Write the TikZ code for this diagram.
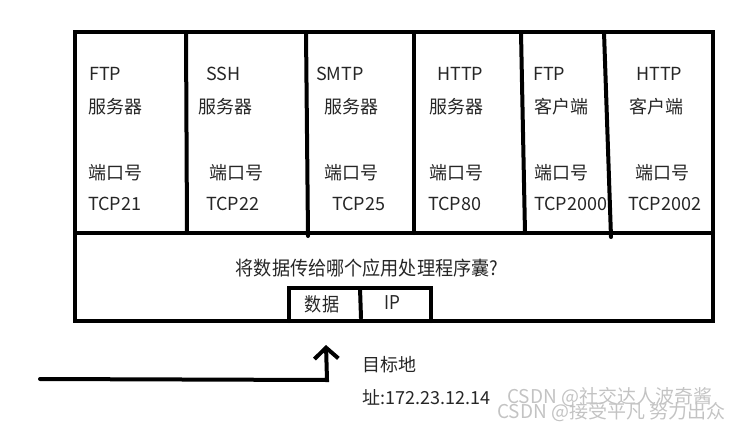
\documentclass[tikz,border=0pt]{standalone}
\usepackage{fontspec}
\setmainfont{Noto Sans CJK SC}
\usetikzlibrary{arrows.meta}
\definecolor{wm}{RGB}{195,195,195}
\tikzset{
  lbl/.style={anchor=mid west, inner sep=0pt, yshift=-5pt, font=\fontsize{18}{20}\selectfont, text=black!85},
  wall/.style={line width=4pt, line cap=round},
  wmark/.style={anchor=mid west, inner sep=0pt, font=\fontsize{19}{21}\selectfont, text=wm},
}
\begin{document}
\begin{tikzpicture}[x=1pt,y=-1pt]
\useasboundingbox (0,0) rectangle (734,426);
% labels
\foreach \nm/\x/\y/\t in {
  a1/89/73/FTP, a2/88/106/服务器, a3/88/172/端口号, a4/88/203/TCP21,
  b1/206/73/SSH, b2/198/106/服务器, b3/209/172/端口号, b4/206/203/TCP22,
  c1/316/73/SMTP, c2/324/106/服务器, c3/324/172/端口号, c4/332/203/TCP25,
  d1/437/73/HTTP, d2/429/106/服务器, d3/429/172/端口号, d4/428/203/TCP80,
  e1/533/73/FTP, e2/534/106/客户端, e3/534/172/端口号, e4/534/203/TCP2000,
  f1/636/73/HTTP, f2/629/106/客户端, f3/635/172/端口号, f4/628/203/TCP2002}
  \node[lbl] (\nm) at (\x,\y) {\t};
% frame
\coordinate (tl) at (75,32);
\coordinate (br) at (713,321);
\draw[wall] (tl) rectangle (br);
\draw[wall] (75,233) -- (713,233);
\draw[wall] (186,32) -- (187,233);
\draw[wall] (306,32) -- (308,236);
\draw[wall] (414,32) -- (414,233);
\draw[wall] (521,32) -- (525,233);
\draw[wall] (604,32) -- (611,237);
% question
\node[anchor=center, inner sep=0pt, font=\fontsize{19.5}{22}\selectfont, text=black!85, xscale=0.93] (q) at (367,268) {将数据传给哪个应用处理程序囊?};
% packet
\draw[wall] (289,321) -- (289,288) -- (431,288) -- (431,321);
\draw[wall] (360,288) -- (361,318);
\node[anchor=center, inner sep=0pt, font=\fontsize{19}{21}\selectfont, text=black!85, xscale=0.9] (data) at (322,304) {数据};
\node[anchor=center, inner sep=0pt, font=\fontsize{19}{21}\selectfont, text=black!85, xscale=0.9] (ip) at (392,303) {IP};
% arrow
\coordinate (src) at (40,379);
\coordinate (bend) at (327,380);
\coordinate (tip) at (326,345);
\draw[wall, -{Straight Barb[length=11pt,width=24pt,line width=4pt]}] (src) -- (bend) -- (tip);
\node[lbl] (dst1) at (362,364) {目标地};
\node[lbl] (dst2) at (362,397) {址:172.23.12.14};
% watermark
\node[wmark] (wm1) at (507,401) {CSDN @社交达人波奇酱};
\node[wmark] (wm2) at (497,416) {CSDN @接受平凡 努力出众};
\end{tikzpicture}
\end{document}
